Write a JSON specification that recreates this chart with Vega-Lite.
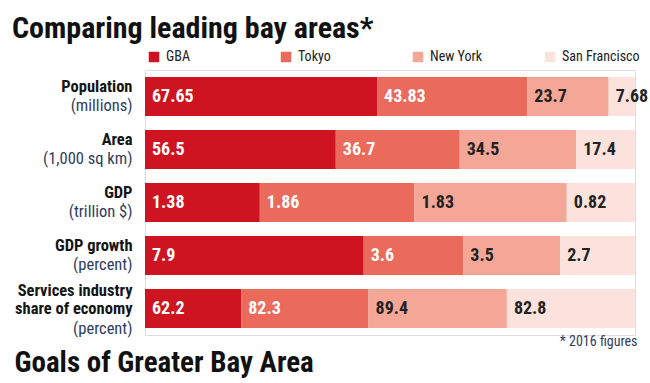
{
  "$schema": "https://vega.github.io/schema/vega-lite/v6.json",
  "width": 490,
  "height": 265,
  "autosize": {"type": "none"},
  "padding": {"left": 145, "top": 70, "right": 15, "bottom": 48},
  "background": "white",
  "title": {
    "text": "Comparing leading bay areas*",
    "anchor": "start",
    "frame": "group",
    "dx": -133,
    "dy": 32,
    "offset": 14,
    "baseline": "alphabetic",
    "font": "Roboto Condensed",
    "fontSize": 30,
    "fontWeight": "bold",
    "color": "#111111"
  },
  "data": {
    "values": [
      {"metric": "Population|(millions)", "region": "GBA", "value": "67.65", "v": 67.65},
      {"metric": "Population|(millions)", "region": "Tokyo", "value": "43.83", "v": 43.83},
      {"metric": "Population|(millions)", "region": "New York", "value": "23.7", "v": 23.7},
      {"metric": "Population|(millions)", "region": "San Francisco", "value": "7.68", "v": 7.68},
      {"metric": "Area|(1,000 sq km)", "region": "GBA", "value": "56.5", "v": 56.5},
      {"metric": "Area|(1,000 sq km)", "region": "Tokyo", "value": "36.7", "v": 36.7},
      {"metric": "Area|(1,000 sq km)", "region": "New York", "value": "34.5", "v": 34.5},
      {"metric": "Area|(1,000 sq km)", "region": "San Francisco", "value": "17.4", "v": 17.4},
      {"metric": "GDP|(trillion $)", "region": "GBA", "value": "1.38", "v": 1.38},
      {"metric": "GDP|(trillion $)", "region": "Tokyo", "value": "1.86", "v": 1.86},
      {"metric": "GDP|(trillion $)", "region": "New York", "value": "1.83", "v": 1.83},
      {"metric": "GDP|(trillion $)", "region": "San Francisco", "value": "0.82", "v": 0.82},
      {"metric": "GDP growth|(percent)", "region": "GBA", "value": "7.9", "v": 7.9},
      {"metric": "GDP growth|(percent)", "region": "Tokyo", "value": "3.6", "v": 3.6},
      {"metric": "GDP growth|(percent)", "region": "New York", "value": "3.5", "v": 3.5},
      {"metric": "GDP growth|(percent)", "region": "San Francisco", "value": "2.7", "v": 2.7},
      {"metric": "Services industry|share of economy|(percent)", "region": "GBA", "value": "62.2", "v": 62.2},
      {"metric": "Services industry|share of economy|(percent)", "region": "Tokyo", "value": "82.3", "v": 82.3},
      {"metric": "Services industry|share of economy|(percent)", "region": "New York", "value": "89.4", "v": 89.4},
      {"metric": "Services industry|share of economy|(percent)", "region": "San Francisco", "value": "82.8", "v": 82.8}
    ]
  },
  "transform": [
    {"calculate": "indexof(['GBA','Tokyo','New York','San Francisco'], datum.region)", "as": "k"},
    {"stack": "v", "groupby": ["metric"], "sort": [{"field": "k", "order": "ascending"}], "offset": "normalize", "as": ["x0", "x1"]}
  ],
  "layer": [
    {
      "mark": {"type": "bar"},
      "encoding": {
        "y": {
          "field": "metric",
          "type": "nominal",
          "sort": ["Population|(millions)", "Area|(1,000 sq km)", "GDP|(trillion $)", "GDP growth|(percent)", "Services industry|share of economy|(percent)"],
          "scale": {"paddingInner": 0.26, "paddingOuter": 0.13},
          "axis": {
            "orient": "left",
            "title": null,
            "domain": false,
            "ticks": false,
            "labelPadding": 13,
            "labelFont": "Roboto Condensed",
            "labelFontSize": 16.5,
            "labelFontWeight": "bold",
            "labelColor": "#151515",
            "labelLineHeight": 18,
            "labelLimit": 200,
            "labelOffset": {"condition": {"test": "indexof(datum.value, 'Services') === 0", "value": -18}, "value": -10},
            "labelExpr": "split(slice(datum.value, 0, lastindexof(datum.value, '|')), '|')"
          }
        },
        "x": {
          "field": "x0",
          "type": "quantitative",
          "scale": {"domain": [0, 1], "nice": false},
          "axis": {
            "orient": "bottom",
            "labels": false,
            "ticks": false,
            "domain": false,
            "grid": false,
            "title": "Goals of Greater Bay Area",
            "titleAnchor": "start",
            "titleAlign": "left",
            "titleX": -131,
            "titleY": 36,
            "titleBaseline": "alphabetic",
            "titleFont": "Roboto Condensed",
            "titleFontSize": 29,
            "titleFontWeight": "bold",
            "titleColor": "#111111"
          }
        },
        "x2": {"field": "x1"},
        "color": {
          "field": "region",
          "type": "nominal",
          "scale": {
            "domain": ["GBA", "Tokyo", "New York", "San Francisco"],
            "range": ["#cd1420", "#ea6b5b", "#f4a797", "#fbe2dc"]
          },
          "legend": {
            "title": null,
            "orient": "none",
            "legendX": 2,
            "legendY": -20,
            "direction": "horizontal",
            "columns": 4,
            "gridAlign": "all",
            "columnPadding": 35,
            "padding": 0,
            "symbolType": "square",
            "symbolSize": 110,
            "symbolStrokeWidth": 0,
            "labelOffset": 5,
            "labelFont": "Roboto Condensed",
            "labelFontSize": 14,
            "labelColor": "#222222"
          }
        }
      }
    },
    {
      "mark": {"type": "text", "align": "left", "baseline": "middle", "dx": 7, "font": "Roboto Condensed", "fontSize": 18, "fontWeight": "bold"},
      "encoding": {
        "y": {
          "field": "metric",
          "type": "nominal",
          "sort": ["Population|(millions)", "Area|(1,000 sq km)", "GDP|(trillion $)", "GDP growth|(percent)", "Services industry|share of economy|(percent)"],
          "axis": {
            "orient": "left",
            "title": null,
            "domain": false,
            "ticks": false,
            "labelPadding": 13,
            "labelFont": "Roboto Condensed",
            "labelFontSize": 16.5,
            "labelFontWeight": "normal",
            "labelColor": "#2f3c5e",
            "labelLimit": 200,
            "labelOffset": {"condition": {"test": "indexof(datum.value, 'Services') === 0", "value": 20}, "value": 9},
            "labelExpr": "slice(datum.value, lastindexof(datum.value, '|') + 1)"
          }
        },
        "x": {
          "field": "x0",
          "type": "quantitative",
          "axis": {
            "orient": "bottom",
            "labels": false,
            "ticks": false,
            "domain": false,
            "grid": false,
            "title": "* 2016 figures",
            "titleAnchor": "end",
            "titleAlign": "right",
            "titleX": 492,
            "titleY": 10,
            "titleBaseline": "alphabetic",
            "titleFont": "Roboto Condensed",
            "titleFontSize": 14,
            "titleFontWeight": "normal",
            "titleColor": "#2f3c5e"
          }
        },
        "text": {"field": "value", "type": "nominal"},
        "color": {
          "condition": {"test": "datum.region === 'GBA' || datum.region === 'Tokyo'", "value": "#ffffff"},
          "value": "#222222"
        }
      }
    }
  ],
  "resolve": {"axis": {"x": "independent", "y": "independent"}}
}
